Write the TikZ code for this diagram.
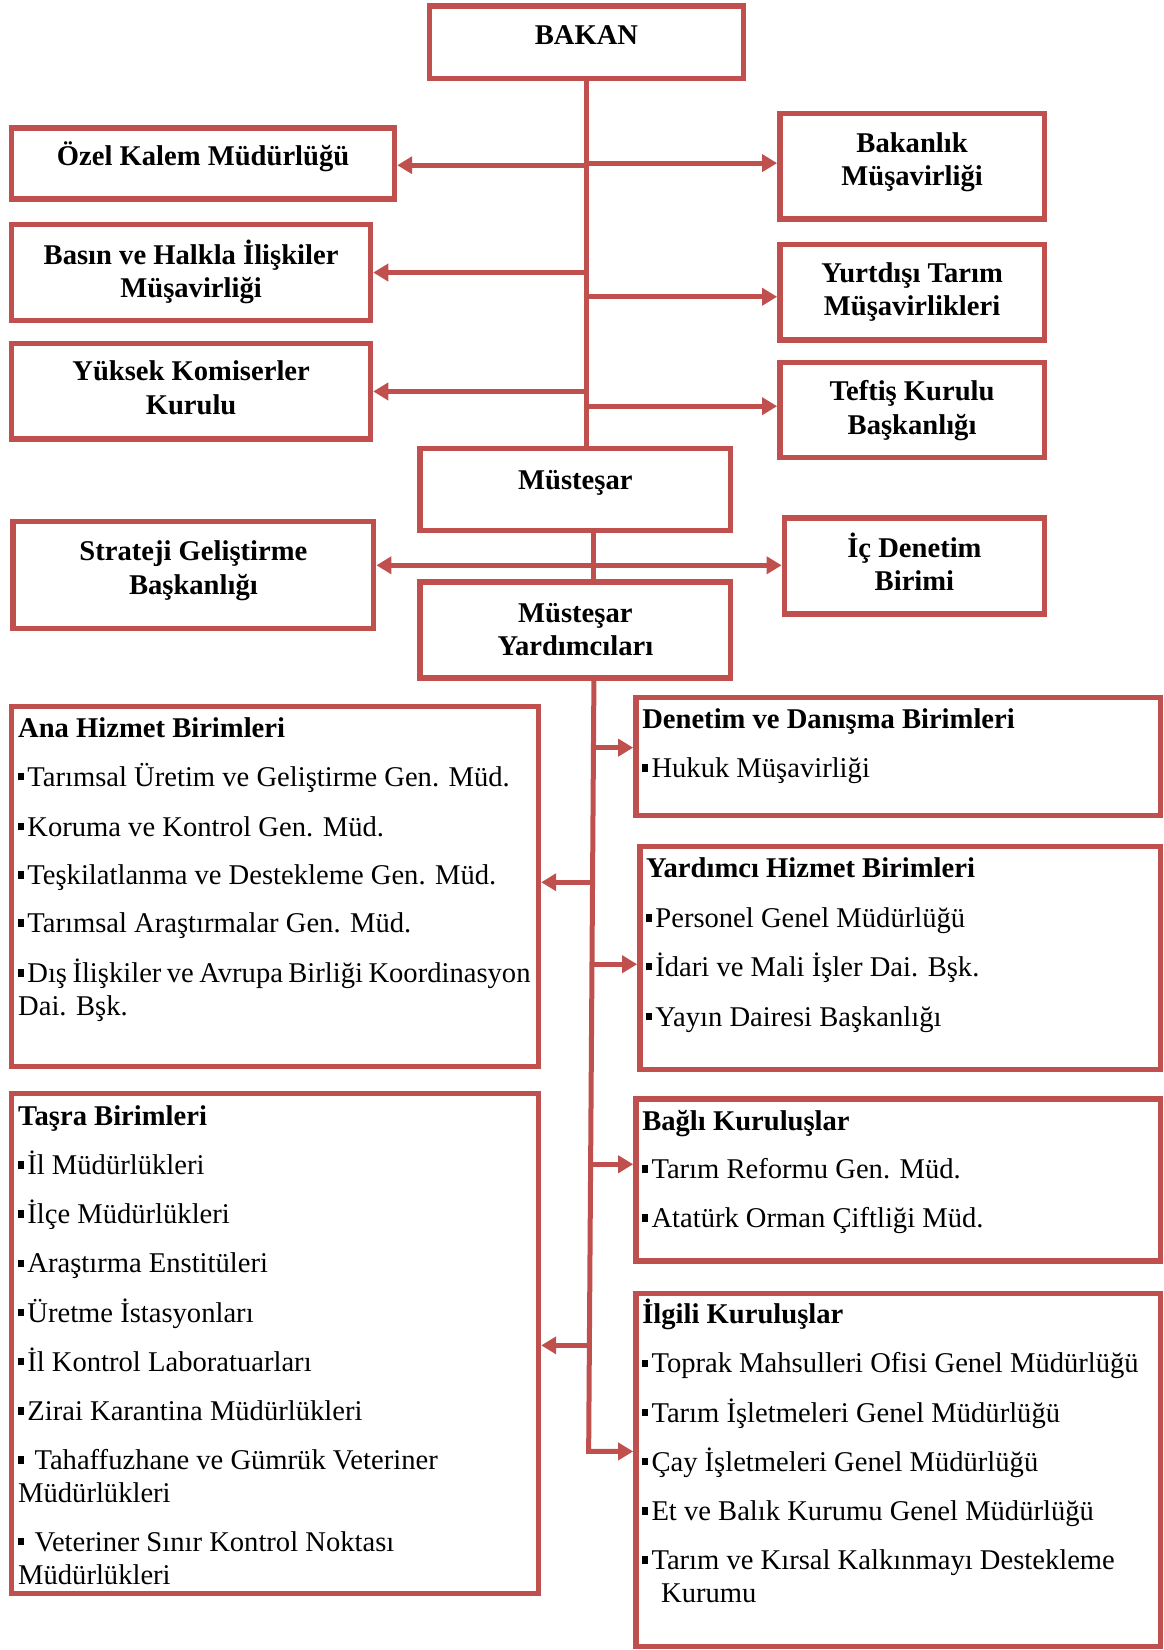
\documentclass[tikz,border=0pt]{standalone}
\usepackage{fontspec}
\setmainfont{Liberation Serif}
\usetikzlibrary{arrows.meta}
\definecolor{boxred}{HTML}{C0504D}
\newcommand{\blt}{\rule[0.2em]{0.21em}{0.27em}\kern1.6pt}
\newcommand{\orgbox}[5]{\node[orgbx, minimum width={(#4-#2-5.13)*0.5262pt}, minimum height={(#5-#3-5.13)*0.5262pt}] (#1) at ({(#2+#4)/2},{(#3+#5)/2}) {};}
\begin{document}
\begin{tikzpicture}[x=0.5262pt,y=-0.5262pt,
  orgbx/.style={draw=boxred, line width=2.7pt, inner sep=0pt, fill=white},
  conn/.style={draw=boxred, line width=2.5pt},
  arr/.style={conn, -{Triangle[length=7.5pt,width=8.5pt]}},
  ttl/.style={font=\fontsize{14.3}{16.6}\selectfont\bfseries, align=center, anchor=base, inner sep=0pt},
  hd/.style={font=\fontsize{14.3}{16.6}\selectfont\bfseries, anchor=base west, inner sep=0pt},
  itm/.style={font=\fontsize{14.3}{16.6}\selectfont, anchor=base west, align=left, inner sep=0pt}]
\useasboundingbox (0,0) rectangle (1106,1568);
% boxes
\orgbox{bakan}{405.6}{3}{709}{77}
\orgbox{ozel}{8.5}{119}{377.5}{191.6}
\orgbox{bakanlik}{738.5}{105.5}{995}{210.6}
\orgbox{basin}{8.5}{211}{354.7}{307}
\orgbox{yurtdisi}{738.5}{229.6}{995}{325.6}
\orgbox{yuksek}{8.5}{323.7}{354.7}{419.7}
\orgbox{teftis}{738.5}{342}{995}{437.5}
\orgbox{mus}{396.5}{423.8}{697}{506.8}
\orgbox{strateji}{9.9}{492.9}{357.7}{599.9}
\orgbox{icdenetim}{742.8}{489.7}{995.3}{586}
\orgbox{my}{396.5}{550.5}{697}{646.8}
\orgbox{ana}{8.5}{669}{514.3}{1015.8}
\orgbox{denetim}{601.7}{660.4}{1105.5}{777.6}
\orgbox{yardimci}{605.5}{802}{1105.5}{1019}
\orgbox{tasra}{8.5}{1036.6}{514.3}{1516.9}
\orgbox{bagli}{601.7}{1041.8}{1105.5}{1200.7}
\orgbox{ilgili}{601.7}{1226.6}{1105.5}{1567}
% upper spine
\draw[conn] (bakan.south) -- (bakan.south |- mus.north);
\coordinate (a1) at (557.3,157);
\coordinate (b1) at (557.3,155);
\coordinate (a2) at (557.3,259);
\coordinate (b2) at (557.3,282);
\coordinate (a3) at (557.3,372);
\coordinate (b3) at (557.3,386);
\draw[arr] (a1) -- (a1 -| ozel.east);
\draw[arr] (b1) -- (b1 -| bakanlik.west);
\draw[arr] (a2) -- (a2 -| basin.east);
\draw[arr] (b2) -- (b2 -| yurtdisi.west);
\draw[arr] (a3) -- (a3 -| yuksek.east);
\draw[arr] (b3) -- (b3 -| teftis.west);
% middle
\coordinate (mid) at (564.4,537.2);
\draw[conn] (mid |- mus.south) -- (mid |- my.north);
\draw[arr] (mid) -- (mid -| strateji.east);
\draw[arr] (mid) -- (mid -| icdenetim.west);
% lower spine
\coordinate (bs) at (564.4,646.8);
\coordinate (be) at (559.4,1379.3);
\draw[arr] (bs) -- (be) -- (be -| ilgili.west);
\coordinate (c1) at (563.97,710.5);
\coordinate (c2) at (563.1,838.4);
\coordinate (c3) at (562.56,916.3);
\coordinate (c4) at (561.26,1106.4);
\coordinate (c5) at (560.09,1278.5);
\draw[arr] (c1) -- (c1 -| denetim.west);
\draw[arr] (c2) -- (c2 -| ana.east);
\draw[arr] (c3) -- (c3 -| yardimci.west);
\draw[arr] (c4) -- (c4 -| bagli.west);
\draw[arr] (c5) -- (c5 -| tasra.east);
% upper texts
\node[ttl] (tbakan) at (557.3,42) {BAKAN};
\node[ttl] (tozel) at (193,157.5) {Özel Kalem Müdürlüğü};
\node[ttl] (tbakanlik) at (866.75,176.5) {Bakanlık\\Müşavirliği};
\node[ttl] (tbasin) at (181.6,282.5) {Basın ve Halkla İlişkiler\\Müşavirliği};
\node[ttl] (tyurtdisi) at (866.75,300) {Yurtdışı Tarım\\Müşavirlikleri};
\node[ttl] (tyuksek) at (181.6,393.5) {Yüksek Komiserler\\Kurulu};
\node[ttl] (tteftis) at (866.75,412.5) {Teftiş Kurulu\\Başkanlığı};
\node[ttl] (tmus) at (546.75,465) {Müsteşar};
\node[ttl] (tstrateji) at (183.8,564.5) {Strateji Geliştirme\\Başkanlığı};
\node[ttl] (ticdenetim) at (869,561.5) {İç Denetim\\Birimi};
\node[ttl] (tmy) at (546.75,623) {Müsteşar\\Yardımcıları};
% Ana Hizmet
\node[hd] (hana) at (16.9,700.4) {Ana Hizmet Birimleri};
\node[itm] (ana1) at (16.9,747) {\blt Tarımsal Üretim ve Geliştirme Gen. Müd.};
\node[itm] (ana2) at (16.9,794.5) {\blt Koruma ve Kontrol Gen. Müd.};
\node[itm] (ana3) at (16.9,840.4) {\blt Teşkilatlanma ve Destekleme Gen. Müd.};
\node[itm] (ana4) at (16.9,886.4) {\blt Tarımsal Araştırmalar Gen. Müd.};
\node[itm] (ana5) at (16.9,965.3) {\spaceskip=0.19em\blt Dış İlişkiler ve Avrupa Birliği Koordinasyon\\Dai. Bşk.};
% Denetim
\node[hd] (hden) at (610,692.5) {Denetim ve Danışma Birimleri};
\node[itm] (den1) at (610,739) {\blt Hukuk Müşavirliği};
% Yardimci
\node[hd] (hyar) at (613.7,834) {Yardımcı Hizmet Birimleri};
\node[itm] (yar1) at (613.7,881.6) {\blt Personel Genel Müdürlüğü};
\node[itm] (yar2) at (613.7,927.5) {\blt İdari ve Mali İşler Dai. Bşk.};
\node[itm] (yar3) at (613.7,975) {\blt Yayın Dairesi Başkanlığı};
% Tasra
\node[hd] (htas) at (16.9,1069.8) {Taşra Birimleri};
\node[itm] (tas1) at (16.9,1116.5) {\blt İl Müdürlükleri};
\node[itm] (tas2) at (16.9,1163) {\blt İlçe Müdürlükleri};
\node[itm] (tas3) at (16.9,1209.7) {\blt Araştırma Enstitüleri};
\node[itm] (tas4) at (16.9,1256.4) {\blt Üretme İstasyonları};
\node[itm] (tas5) at (16.9,1303) {\blt İl Kontrol Laboratuarları};
\node[itm] (tas6) at (16.9,1349.7) {\blt Zirai Karantina Müdürlükleri};
\node[itm] (tas7) at (16.9,1427.8) {\blt{} Tahaffuzhane ve Gümrük Veteriner\\Müdürlükleri};
\node[itm] (tas8) at (16.9,1505.5) {\blt{} Veteriner Sınır Kontrol Noktası\\Müdürlükleri};
% Bagli
\node[hd] (hbag) at (610,1073.9) {Bağlı Kuruluşlar};
\node[itm] (bag1) at (610,1119.8) {\blt Tarım Reformu Gen. Müd.};
\node[itm] (bag2) at (610,1166.5) {\blt Atatürk Orman Çiftliği Müd.};
% Ilgili
\node[hd] (hilg) at (610,1258) {İlgili Kuruluşlar};
\node[itm] (ilg1) at (610,1304.7) {\blt Toprak Mahsulleri Ofisi Genel Müdürlüğü};
\node[itm] (ilg2) at (610,1351.4) {\blt Tarım İşletmeleri Genel Müdürlüğü};
\node[itm] (ilg3) at (610,1398) {\blt Çay İşletmeleri Genel Müdürlüğü};
\node[itm] (ilg4) at (610,1444.7) {\blt Et ve Balık Kurumu Genel Müdürlüğü};
\node[itm] (ilg5) at (610,1522.8) {\blt Tarım ve Kırsal Kalkınmayı Destekleme\\\hspace*{9.4pt}Kurumu};
\end{tikzpicture}
\end{document}
